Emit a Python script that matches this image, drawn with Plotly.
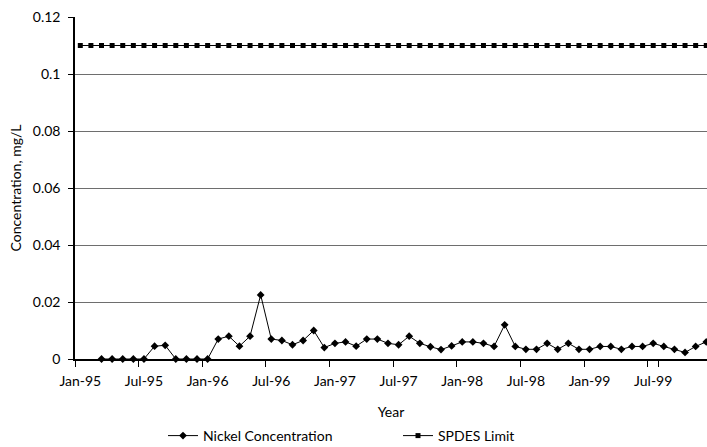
import pandas as pd
import plotly.graph_objects as go

# Monthly sampling periods, Jan-95 through Dec-99
months = [d.strftime("%b-%y") for d in pd.date_range("1995-01-01", "1999-12-01", freq="MS")]

# Nickel concentration (mg/L); no samples in Jan-95 and Feb-95
nickel = [
    None, None, 0, 0, 0, 0, 0, 0.0045, 0.0048, 0, 0, 0,
    0, 0.007, 0.008, 0.0045, 0.008, 0.0225, 0.007, 0.0065, 0.005, 0.0065, 0.010, 0.004,
    0.0055, 0.006, 0.0045, 0.007, 0.007, 0.0055, 0.005, 0.008, 0.0055, 0.0043, 0.0033, 0.0046,
    0.006, 0.006, 0.0055, 0.0044, 0.012, 0.0044, 0.0034, 0.0034, 0.0055, 0.0034, 0.0055, 0.0034,
    0.0034, 0.0044, 0.0044, 0.0034, 0.0044, 0.0044, 0.0055, 0.0044, 0.0034, 0.0023, 0.0044, 0.006,
]

# SPDES permit limit (mg/L)
spdes_limit = [0.11] * len(months)

tick_labels = ["Jan-95", "Jul-95", "Jan-96", "Jul-96", "Jan-97",
               "Jul-97", "Jan-98", "Jul-98", "Jan-99", "Jul-99"]
y_ticks = [0, 0.02, 0.04, 0.06, 0.08, 0.1, 0.12]

FONT = "Lato, 'Open Sans', sans-serif"

fig = go.Figure()

fig.add_trace(go.Scatter(
    x=months, y=nickel, name="Nickel Concentration",
    mode="lines+markers",
    line=dict(color="black", width=1),
    marker=dict(symbol="diamond", size=6, color="black"),
    cliponaxis=False,
))

fig.add_trace(go.Scatter(
    x=months, y=spdes_limit, name="SPDES Limit",
    mode="lines+markers",
    line=dict(color="black", width=1),
    marker=dict(symbol="square", size=5, color="black"),
    cliponaxis=False,
))

fig.update_layout(
    width=707, height=447,
    margin=dict(l=75, r=0, t=17, b=88, autoexpand=False),
    paper_bgcolor="white", plot_bgcolor="white",
    font=dict(family=FONT, size=14, color="black"),
    showlegend=True,
    legend=dict(
        orientation="h",
        xref="container", x=163 / 707, xanchor="left",
        yref="container", y=11 / 447, yanchor="middle",
        font=dict(family=FONT, size=14, color="black"),
        itemwidth=30, entrywidth=190, entrywidthmode="pixels",
        bgcolor="rgba(0,0,0,0)",
    ),
)

fig.update_xaxes(
    type="category", categoryorder="array", categoryarray=months,
    range=[-0.5, 59.07],
    tickmode="array", tickvals=tick_labels, ticktext=tick_labels,
    tickson="boundaries", ticks="outside", ticklen=6, tickcolor="black", tickwidth=1,
    tickangle=0, ticklabelstandoff=8,
    showline=True, linecolor="black", linewidth=1.5,
    showgrid=False, zeroline=False,
    title=dict(text="Year", font=dict(family=FONT, size=14), standoff=20),
    tickfont=dict(family=FONT, size=14),
)

fig.update_yaxes(
    range=[0, 0.12],
    tickmode="array", tickvals=y_ticks,
    ticktext=["0", "0.02", "0.04", "0.06", "0.08", "0.1", "0.12"],
    ticks="outside", ticklen=5, tickcolor="black", tickwidth=1,
    ticklabelstandoff=5,
    showline=True, linecolor="black", linewidth=1.5,
    showgrid=True, gridcolor="#6e6e6e", gridwidth=1,
    zeroline=False,
    title=dict(text="Concentration, mg/L", font=dict(family=FONT, size=14), standoff=8),
    tickfont=dict(family=FONT, size=14),
)

fig.write_html("out.html")
